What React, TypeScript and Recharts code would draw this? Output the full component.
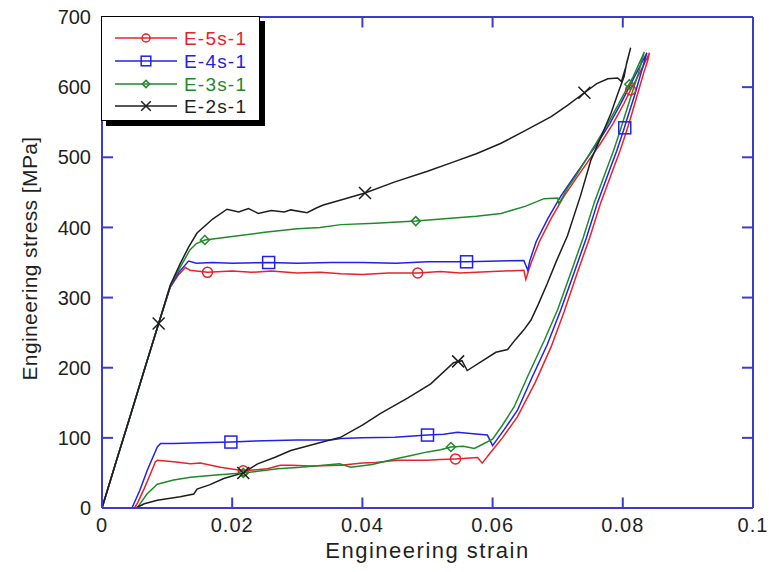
import React from "react"
import { ComposedChart, Line, Scatter, XAxis, YAxis, ReferenceLine } from "recharts"

type Pt = [number, number]

const strainTicks = [0, 0.02, 0.04, 0.06, 0.08, 0.1]
const stressTicks = [0, 100, 200, 300, 400, 500, 600, 700]
const seriesNames = ["E-5s-1", "E-4s-1", "E-3s-1", "E-2s-1"]

// E-5s-1: loading then unloading
const e5Path: Pt[] = [
    [0, 0], [0.0022, 67], [0.0044, 133], [0.0066, 200], [0.0087, 263], [0.0105, 315], [0.0118, 333], [0.0128, 343],
    [0.0135, 339], [0.0162, 336], [0.02, 338], [0.023, 336], [0.026, 338], [0.03, 335], [0.0335, 336], [0.0367, 334],
    [0.04, 333], [0.044, 335], [0.0485, 335], [0.052, 337], [0.055, 335], [0.06, 337], [0.0648, 339], [0.0651, 326],
    [0.0659, 349], [0.0672, 380], [0.069, 413], [0.071, 445], [0.073, 472], [0.0748, 496], [0.0766, 520], [0.0785, 548],
    [0.0802, 577], [0.0812, 596], [0.0823, 615], [0.0833, 633], [0.0841, 649],
    [0.0838, 637], [0.0832, 620], [0.0822, 588], [0.0812, 556], [0.0806, 538], [0.0796, 510], [0.0784, 480], [0.0766, 435],
    [0.0749, 385], [0.073, 335], [0.071, 280], [0.069, 230], [0.0665, 178], [0.0638, 130], [0.0615, 100], [0.0596, 78],
    [0.0584, 64], [0.0577, 72], [0.056, 71], [0.0543, 70], [0.052, 69], [0.05, 68], [0.0454, 68], [0.042, 65], [0.04, 64],
    [0.0367, 61], [0.032, 60], [0.029, 61], [0.0274, 61], [0.0254, 56], [0.0217, 53], [0.0182, 58], [0.0151, 64],
    [0.0136, 63], [0.011, 66], [0.0085, 68], [0.0082, 66], [0.0075, 50], [0.0065, 28], [0.0055, 8], [0.005, 0],
]

const e4Path: Pt[] = [
    [0, 0], [0.0022, 67], [0.0044, 133], [0.0066, 200], [0.0087, 263], [0.0105, 316], [0.0118, 336], [0.0133, 352],
    [0.0145, 349], [0.017, 350], [0.02, 349], [0.0256, 350], [0.03, 349], [0.0351, 350], [0.04, 350], [0.0452, 349],
    [0.05, 351], [0.056, 351], [0.0648, 353], [0.0654, 339], [0.0657, 352], [0.0667, 380], [0.0685, 413], [0.0705, 445],
    [0.0725, 472], [0.0743, 496], [0.0761, 520], [0.078, 548], [0.0797, 577], [0.0818, 615], [0.0837, 649],
    [0.0828, 620], [0.0818, 588], [0.0807, 556], [0.0801, 538], [0.0791, 510], [0.0779, 480], [0.0761, 435], [0.0744, 385],
    [0.0725, 335], [0.0705, 283], [0.0684, 233], [0.066, 185], [0.0638, 139], [0.0618, 112], [0.06, 89], [0.0592, 104],
    [0.057, 106], [0.0546, 108], [0.0525, 105], [0.05, 104], [0.045, 101], [0.04, 100], [0.0367, 99], [0.0351, 97],
    [0.03, 97], [0.025, 96], [0.0198, 94], [0.015, 93], [0.011, 92], [0.009, 92], [0.0085, 87], [0.007, 55],
    [0.0058, 25], [0.0046, 0],
]

const e3Path: Pt[] = [
    [0, 0], [0.0022, 67], [0.0044, 133], [0.0066, 200], [0.0087, 263], [0.0105, 317], [0.012, 343], [0.0135, 368],
    [0.0145, 377], [0.0158, 382], [0.02, 387], [0.025, 393], [0.03, 398], [0.0335, 400], [0.0367, 404], [0.042, 406],
    [0.0482, 409], [0.0536, 413], [0.0575, 416], [0.0613, 420], [0.065, 430], [0.0679, 441], [0.07, 442], [0.0702, 434],
    [0.0715, 456], [0.0727, 472], [0.0743, 496], [0.0759, 520], [0.0777, 548], [0.0794, 577], [0.0816, 615], [0.0833, 650],
    [0.0824, 620], [0.0813, 588], [0.0802, 556], [0.0796, 538], [0.0786, 510], [0.0774, 480], [0.0756, 435], [0.0739, 385],
    [0.072, 335], [0.07, 283], [0.0679, 238], [0.0655, 190], [0.0633, 144], [0.0615, 118], [0.06, 98], [0.0587, 92],
    [0.0572, 85], [0.0555, 88], [0.0536, 87], [0.052, 83], [0.05, 80], [0.0475, 75], [0.045, 70], [0.0415, 62],
    [0.0382, 58], [0.0365, 63], [0.034, 61], [0.0305, 58], [0.027, 56], [0.0245, 53], [0.0217, 50], [0.0175, 47],
    [0.0136, 44], [0.011, 40], [0.0085, 34], [0.0069, 20], [0.006, 8], [0.0054, 0],
]

const e2Path: Pt[] = [
    [0, 0], [0.0022, 67], [0.0044, 133], [0.0066, 200], [0.0087, 263], [0.0105, 318], [0.012, 348], [0.0133, 372],
    [0.0146, 392], [0.017, 412], [0.0192, 426], [0.021, 422], [0.0225, 427], [0.024, 420], [0.026, 424], [0.028, 422],
    [0.029, 425], [0.0315, 421], [0.033, 428], [0.034, 432], [0.0367, 439], [0.0404, 449], [0.045, 465], [0.05, 480],
    [0.0536, 492], [0.0575, 505], [0.0613, 520], [0.065, 538], [0.069, 558], [0.0715, 574], [0.0741, 592], [0.076, 605],
    [0.0777, 612], [0.0792, 613], [0.0798, 608], [0.0805, 630], [0.0812, 656],
    [0.0806, 635], [0.0802, 615], [0.0792, 590], [0.0782, 563], [0.0767, 530], [0.0751, 496], [0.0735, 445], [0.0715, 388],
    [0.0698, 352], [0.0684, 320], [0.067, 290], [0.0659, 268], [0.0648, 254], [0.0635, 240], [0.0623, 226], [0.0605, 222],
    [0.0585, 210], [0.0561, 196], [0.0553, 210], [0.054, 207], [0.0505, 177], [0.047, 157], [0.0428, 135], [0.04, 118],
    [0.0367, 101], [0.033, 92], [0.029, 82], [0.0265, 72], [0.0239, 63], [0.0217, 50], [0.0187, 42], [0.0165, 33],
    [0.0146, 27], [0.0141, 20], [0.012, 16], [0.0085, 11], [0.0065, 6], [0.0052, 0],
]

// marker positions along each curve
const e5Marks: Pt[] = [[0.0162, 336], [0.0485, 335], [0.0812, 596], [0.0543, 70], [0.0217, 53]]
const e4Marks: Pt[] = [[0.0256, 350], [0.056, 351], [0.0803, 542], [0.05, 104], [0.0198, 94]]
const e3Marks: Pt[] = [[0.0158, 382], [0.0482, 409], [0.081, 604], [0.0536, 87], [0.0217, 50]]
const e2Marks: Pt[] = [[0.0087, 263], [0.0404, 449], [0.0741, 592], [0.0547, 209], [0.0217, 50]]

const RED = "#e8222a"
const BLUE = "#2222e6"
const GREEN = "#1f8a2a"
const BLACK = "#1e1e1e"
const AXIS = "#3b3bd0"
const FONT = "'Liberation Sans', Arial, sans-serif"

// inward tick lengths, in data units (about 10px)
const X_TICK_LEN = 15
const Y_TICK_LEN = 0.0017

const toPts = (p: Pt[]) => p.map(([x, y]) => ({ x, y }))

type Kind = "circle" | "square" | "diamond" | "cross"

function Mark({ kind, cx, cy, color, s = 1 }: { kind: Kind; cx: number; cy: number; color: string; s?: number }) {
    if (kind === "circle") return <circle cx={cx} cy={cy} r={5 * s} fill="none" stroke={color} strokeWidth={1.5} />
    if (kind === "square")
        return (
            <rect x={cx - 6 * s} y={cy - 6 * s} width={12 * s} height={12 * s} fill="none" stroke={color} strokeWidth={1.5} />
        )
    if (kind === "diamond") {
        const d = 4.5 * s
        return (
            <path
                d={`M${cx},${cy - d}L${cx + d},${cy}L${cx},${cy + d}L${cx - d},${cy}Z`}
                fill="none"
                stroke={color}
                strokeWidth={1.5}
            />
        )
    }
    const h = 6 * s
    return (
        <path
            d={`M${cx - h},${cy - h}L${cx + h},${cy + h}M${cx - h},${cy + h}L${cx + h},${cy - h}`}
            stroke={color}
            strokeWidth={1.5}
        />
    )
}

const series = [
    { name: seriesNames[0], path: e5Path, marks: e5Marks, color: RED, kind: "circle" as Kind },
    { name: seriesNames[1], path: e4Path, marks: e4Marks, color: BLUE, kind: "square" as Kind },
    { name: seriesNames[2], path: e3Path, marks: e3Marks, color: GREEN, kind: "diamond" as Kind },
    { name: seriesNames[3], path: e2Path, marks: e2Marks, color: BLACK, kind: "cross" as Kind },
]

const labelStyle = { fontFamily: FONT, fontSize: 20, fill: "#1f1f1f" }

function BottomTick(props: any) {
    const { x, y, payload } = props
    return (
        <text x={x} y={y + 10} dy="0.71em" textAnchor="middle" letterSpacing={1} style={labelStyle}>
            {String(payload.value)}
        </text>
    )
}

function LeftTick(props: any) {
    const { x, y, payload } = props
    return (
        <text x={x - 11} y={y} dy="0.36em" textAnchor="end" style={labelStyle}>
            {String(payload.value)}
        </text>
    )
}

function XTitle(props: any) {
    const vb = props.viewBox
    return (
        <text
            x={vb.x + vb.width / 2}
            y={558}
            textAnchor="middle"
            letterSpacing={1.5}
            style={{ fontFamily: FONT, fontSize: 22, fill: "#1f1f1f" }}
        >
            Engineering strain
        </text>
    )
}

function YTitle(props: any) {
    const vb = props.viewBox
    const cy = vb.y + vb.height / 2 - 4
    return (
        <text
            x={29}
            y={cy}
            transform={`rotate(-90 29 ${cy})`}
            textAnchor="middle"
            dominantBaseline="central"
            letterSpacing={0.4}
            style={{ fontFamily: FONT, fontSize: 21, fill: "#1f1f1f" }}
        >
            Engineering stress [MPa]
        </text>
    )
}

function LegendBox() {
    const rows = [21, 44, 67, 89]
    return (
        <div
            style={{
                position: "absolute",
                left: 101,
                top: 16,
                width: 157,
                height: 103,
                border: "1.5px solid #000",
                boxShadow: "5px 5px 0 #000",
                background: "#fff",
            }}
        >
            <svg width={157} height={103}>
                {series.map((s, i) => (
                    <g key={s.name}>
                        <line x1={13} y1={rows[i]} x2={75} y2={rows[i]} stroke={s.color} strokeWidth={1.5} />
                        <Mark kind={s.kind} cx={44} cy={rows[i]} color={s.color} s={0.8} />
                        <text
                            x={82}
                            y={rows[i]}
                            dy="0.36em"
                            letterSpacing={1.2}
                            style={{ fontFamily: FONT, fontSize: 19, fill: s.color }}
                        >
                            {s.name}
                        </text>
                    </g>
                ))}
            </svg>
        </div>
    )
}

const frame = { stroke: AXIS, strokeWidth: 2 }

export default function App() {
    return (
        <div style={{ position: "absolute", left: 0, top: 0, width: 769, height: 572, background: "#fff" }}>
            <ComposedChart width={769} height={572} margin={{ top: 17, right: 16, bottom: 0, left: 0 }}>
                <XAxis
                    dataKey="x"
                    type="number"
                    domain={[0, 0.1]}
                    ticks={strainTicks}
                    height={64}
                    tickSize={0}
                    tickMargin={0}
                    tickLine={false}
                    axisLine={frame}
                    tick={(p: any) => <BottomTick {...p} />}
                    label={<XTitle />}
                />
                <YAxis
                    type="number"
                    domain={[0, 700]}
                    ticks={stressTicks}
                    width={102}
                    tickSize={0}
                    tickMargin={0}
                    tickLine={false}
                    axisLine={frame}
                    tick={(p: any) => <LeftTick {...p} />}
                    label={<YTitle />}
                />
                <ReferenceLine y={700} {...frame} />
                <ReferenceLine x={0.1} {...frame} />
                {strainTicks.map((t) => (
                    <ReferenceLine key={"bx" + t} segment={[{ x: t, y: 0 }, { x: t, y: X_TICK_LEN }]} {...frame} />
                ))}
                {strainTicks.map((t) => (
                    <ReferenceLine key={"tx" + t} segment={[{ x: t, y: 700 }, { x: t, y: 700 - X_TICK_LEN }]} {...frame} />
                ))}
                {stressTicks.map((t) => (
                    <ReferenceLine key={"ly" + t} segment={[{ x: 0, y: t }, { x: Y_TICK_LEN, y: t }]} {...frame} />
                ))}
                {stressTicks.map((t) => (
                    <ReferenceLine key={"ry" + t} segment={[{ x: 0.1, y: t }, { x: 0.1 - Y_TICK_LEN, y: t }]} {...frame} />
                ))}
                {series.map((s) => (
                    <Line
                        key={s.name}
                        data={toPts(s.path)}
                        dataKey="y"
                        type="linear"
                        stroke={s.color}
                        strokeWidth={1.5}
                        dot={false}
                        activeDot={false}
                        isAnimationActive={false}
                    />
                ))}
                {series.map((s) => (
                    <Scatter
                        key={s.name + "-m"}
                        data={toPts(s.marks)}
                        dataKey="y"
                        isAnimationActive={false}
                        shape={(p: any) => <Mark kind={s.kind} cx={p.cx} cy={p.cy} color={s.color} />}
                    />
                ))}
            </ComposedChart>
            <LegendBox />
        </div>
    )
}
